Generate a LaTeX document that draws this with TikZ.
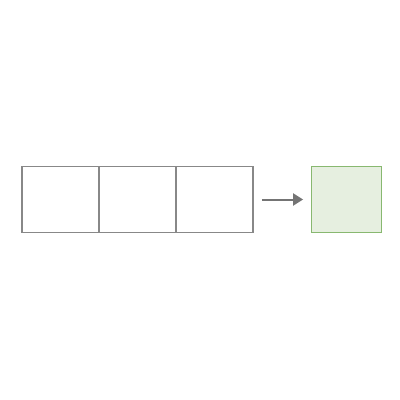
\documentclass[tikz,border=0pt]{standalone}
\usepackage{tikz}
\usetikzlibrary{positioning, arrows.meta}
\definecolor{cellgray}{HTML}{888888}
\definecolor{resgreen}{HTML}{88B870}
\definecolor{resfill}{HTML}{E6EFE0}
\begin{document}
\begin{tikzpicture}[
    % GLOBAL CFG
    x=0.25mm, y=-0.25mm,
    >={Triangle[length=2.5mm, width=3mm]},
    % Styles
    cell/.style={% For the input boxes
        rectangle,
        draw=cellgray,
        line width=0.35mm,
        outer sep=0pt,
        minimum width=19.25mm,
        minimum height=16.5mm,
        },
    result/.style={% For the output box
        rectangle,
        draw=resgreen,
        fill=resfill,
        line width=0.3mm,
        outer sep=0pt,
        minimum width=17.4mm,
        minimum height=16.5mm,
        },
    ArrowG/.style={% Gray arrow
        ->,
        draw=cellgray!85!black,
        line width=0.5mm,
        },
    ]
    \useasboundingbox (0,0) rectangle (400,400);

    % Draw the cells
    \node [cell] (cell1) at (60.5,199.5) {};
    \node [cell, right=0pt of cell1] (cell2) {};
    \node [cell, right=0pt of cell2] (cell3) {};

    % Draw the result
    \node [result] (res) at (346.3,199.5) {};

    % Connect
    \draw [ArrowG, shorten <=2.2mm, shorten >=2.1mm] (cell3) -- (res);

\end{tikzpicture}
\end{document}
